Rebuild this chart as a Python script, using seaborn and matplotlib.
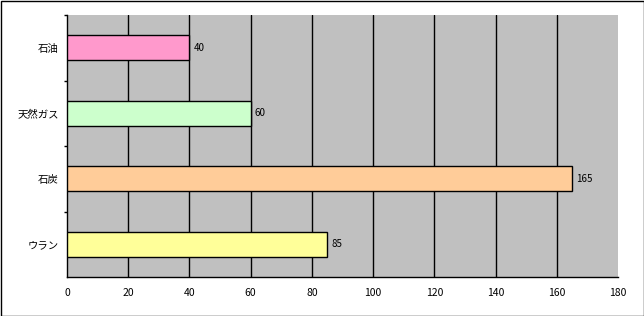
import matplotlib
matplotlib.use("Agg")
import matplotlib.pyplot as plt
import seaborn as sns
import pandas as pd
from matplotlib.patches import Rectangle

categories = ["石油", "天然ガス", "石炭", "ウラン"]
values = [40, 60, 165, 85]
colors = ["#FF99CC", "#CCFFCC", "#FFCC99", "#FFFF99"]
xticks = [0, 20, 40, 60, 80, 100, 120, 140, 160, 180]

sns.set_style("white")
plt.rcParams['font.family'] = ['Noto Sans CJK JP', 'DejaVu Sans']
plt.rcParams['text.color'] = 'black'
plt.rcParams['xtick.color'] = 'black'
plt.rcParams['ytick.color'] = 'black'
plt.rcParams['ytick.left'] = True

df = pd.DataFrame({"cat": categories, "val": values})

fig = plt.figure(figsize=(6.44, 3.16), dpi=100)
ax = fig.add_axes([67/644, 1 - 277/316, (618-67)/644, (277-15)/316])
ax.set_facecolor("#C0C0C0")

sns.barplot(data=df, y="cat", x="val", hue="cat", palette=colors, order=categories,
            orient="h", width=0.38, edgecolor="black", linewidth=1, saturation=1,
            legend=False, ax=ax, zorder=3)

ax.set_xlim(0, 180)
ax.set_ylim(3.5, -0.5)
ax.set_xticks(xticks)
ax.set_xticklabels([str(t) for t in xticks], fontsize=7.5)
ax.set_xlabel("")
ax.set_ylabel("")
for t in xticks[1:-1]:
    ax.axvline(t, color="black", linewidth=1, zorder=1)

ax.set_yticks(range(len(categories)))
ax.set_yticklabels(categories, fontsize=7.5)
ax.tick_params(axis="y", which="major", left=True, length=0, pad=6, labelcolor="black")
ax.set_yticks([0.5, 1.5, 2.5, -0.5], minor=True)
ax.tick_params(axis="y", which="minor", left=True, length=2.5, color="black", width=1)
ax.tick_params(axis="x", length=0, pad=8, labelcolor="black")

for s in ["top", "right"]:
    ax.spines[s].set_visible(False)
for s in ["left", "bottom"]:
    ax.spines[s].set_color("black")
    ax.spines[s].set_linewidth(1)

for i, v in enumerate(values):
    ax.text(v + 1.3, i, str(v), va="center", ha="left", fontsize=7, color="black")

fig.patches.append(Rectangle((0.5/644, 0.5/316), 643/644, 315/316, transform=fig.transFigure,
                             fill=False, edgecolor="black", linewidth=1))

fig.savefig("out.png", dpi=100)
